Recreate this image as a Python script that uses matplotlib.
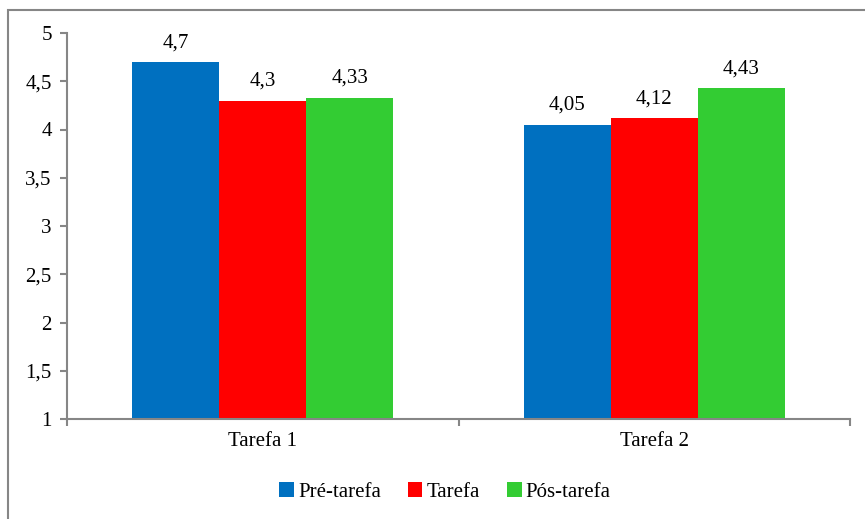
import numpy as np
import matplotlib.pyplot as plt
from matplotlib.patches import Rectangle

categories = ["Tarefa 1", "Tarefa 2"]
series_names = ["Pré-tarefa", "Tarefa", "Pós-tarefa"]
pre_tarefa = [4.7, 4.05]
tarefa = [4.3, 4.12]
pos_tarefa = [4.33, 4.43]
value_labels = [["4,7", "4,05"], ["4,3", "4,12"], ["4,33", "4,43"]]
y_ticks = [1, 1.5, 2, 2.5, 3, 3.5, 4, 4.5, 5]

colors = ["#0070C0", "#FF0000", "#33CC33"]
grey = "#868686"

plt.rcParams['font.family'] = 'serif'
plt.rcParams['font.serif'] = ['Liberation Serif', 'DejaVu Serif']
fs = 15

fig = plt.figure(figsize=(8.65, 5.19), dpi=100)
ax = fig.add_axes([67 / 865, 1 - 419 / 519, (850 - 67) / 865, (419 - 33) / 519])

# outer chart frame (runs off the right and bottom edges)
fig.patches.append(Rectangle((8 / 865, -0.05), 1.1, 1.05 - 10 / 519,
                             transform=fig.transFigure, fill=False,
                             edgecolor=grey, linewidth=1.5, zorder=0))

x = np.arange(len(categories)) + 0.5
width = 0.222
all_series = [pre_tarefa, tarefa, pos_tarefa]
for i, (vals, name, col) in enumerate(zip(all_series, series_names, colors)):
    pos = x + (i - 1) * width
    ax.bar(pos, np.array(vals) - 1, width, bottom=1, color=col, label=name)
    for px, v, lab in zip(pos, vals, value_labels[i]):
        ax.annotate(lab, (px, v), xytext=(0, 7), textcoords="offset points",
                    ha="center", va="bottom", fontsize=fs)

ax.set_xlim(0, 2)
ax.set_ylim(1, 5)
ax.set_yticks(y_ticks)
ax.set_yticklabels([str(t).replace(".", ",").replace(",0", "") for t in y_ticks], fontsize=fs)
ax.set_xticks([0, 1, 2])
ax.set_xticklabels([])
ax.set_xticks(x, minor=True)
ax.set_xticklabels(categories, minor=True, fontsize=fs)
ax.tick_params(axis="x", which="minor", length=0, pad=9)
ax.tick_params(axis="x", which="major", length=5, width=1.5, color=grey)
ax.tick_params(axis="y", length=5, width=1.5, color=grey, pad=6)

for side in ["top", "right"]:
    ax.spines[side].set_visible(False)
for side in ["left", "bottom"]:
    ax.spines[side].set_color(grey)
    ax.spines[side].set_linewidth(1.5)

fig.legend(loc="center", bbox_to_anchor=(445 / 865, 1 - 492 / 519), ncol=3,
           frameon=False, fontsize=fs, handlelength=0.7, handleheight=0.7,
           handletextpad=0.2, columnspacing=1.3)

fig.savefig("out.png", dpi=100)
